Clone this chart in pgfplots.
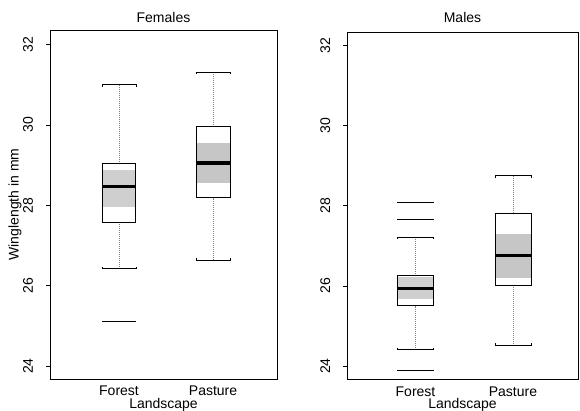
\documentclass[border=0pt]{standalone}
\usepackage{fontspec}
\setmainfont{Liberation Sans}
\usepackage{pgfplots}
\pgfplotsset{compat=1.18}
\usepgfplotslibrary{statistics}

\newcommand{\fnt}{\fontsize{14bp}{16bp}\selectfont}

\pgfplotsset{
  rbox/.style={
    scale only axis,
    axis line style={line width=0.8bp},
    ymin=23.68, ymax=32.36,
    ytick={24,26,28,30,32},
    xtick={1,2}, xticklabels={Forest,Pasture},
    tick pos=left,
    x tick style={draw=none},
    y tick style={black, line width=0.7bp},
    tick align=outside, major tick length=4bp,
    /pgf/number format/assume math mode=true,
    tick label style={font=\fnt},
    yticklabel style={xshift=-13bp, rotate=90, anchor=base, inner sep=0pt},
    xticklabel style={anchor=base, inner sep=0pt, yshift=-13bp},
    label style={font=\fnt},
    title style={font=\fnt, anchor=center},
    xlabel style={at={(axis description cs:0.5,-0.075)}, anchor=center},
    xlabel={Landscape},
    boxplot/draw direction=y,
    boxplot/box extend=0.36,
    boxplot/whisker extend=0.36,
    boxplot/every box/.style={draw=black, line width=0.9bp, fill=none},
    boxplot/every median/.style={draw=black, line width=3.2bp},
    boxplot/draw/lower whisker/.code={%
      \pgfmathsetmacro\hk{\pgfplotsboxplotvalue{lower whisker}+0.05}%
      \draw[gray, line width=0.7bp, dash pattern=on 0.8bp off 1.2bp]
        (boxplot box cs:\pgfplotsboxplotvalue{lower whisker},0.5) --
        (boxplot box cs:\pgfplotsboxplotvalue{lower quartile},0.5);
      \draw[black, line width=0.8bp]
        (boxplot whisker cs:\hk,0) --
        (boxplot whisker cs:\pgfplotsboxplotvalue{lower whisker},0) --
        (boxplot whisker cs:\pgfplotsboxplotvalue{lower whisker},1) --
        (boxplot whisker cs:\hk,1);
    },
    boxplot/draw/upper whisker/.code={%
      \pgfmathsetmacro\hk{\pgfplotsboxplotvalue{upper whisker}-0.05}%
      \draw[gray, line width=0.7bp, dash pattern=on 0.8bp off 1.2bp]
        (boxplot box cs:\pgfplotsboxplotvalue{upper whisker},0.5) --
        (boxplot box cs:\pgfplotsboxplotvalue{upper quartile},0.5);
      \draw[black, line width=0.8bp]
        (boxplot whisker cs:\hk,0) --
        (boxplot whisker cs:\pgfplotsboxplotvalue{upper whisker},0) --
        (boxplot whisker cs:\pgfplotsboxplotvalue{upper whisker},1) --
        (boxplot whisker cs:\hk,1);
    },
  },
  notch/.style={fill=gray!38, draw=none, forget plot},
  outl/.style={black, line width=0.8bp, forget plot, mark=none},
}

\begin{document}
\begin{tikzpicture}
\path[use as bounding box] (0,0) rectangle (580bp,411bp);

% ---------------- Females ----------------
\begin{axis}[rbox,
  at={(50bp,32bp)}, anchor=south west,
  width=227bp, height=349bp,
  xmin=0.266, xmax=2.68,
  title={Females},
  title style={at={(axis description cs:0.5,1.019)}},
  ylabel={Winglength in mm},
  ylabel style={at={(axis description cs:-0.154,0.5)}, anchor=center},
]
% notch bands
\addplot[notch] coordinates {(0.82,27.96) (1.18,27.96) (1.18,28.87) (0.82,28.87)};
\addplot[notch, fill=gray!45] coordinates {(1.82,28.56) (2.18,28.56) (2.18,29.54) (1.82,29.54)};
% boxes
\addplot[boxplot prepared={draw position=1,
  lower whisker=26.42, lower quartile=27.58, median=28.46,
  upper quartile=29.05, upper whisker=31.0}, black] coordinates {};
\addplot[boxplot prepared={draw position=2,
  lower whisker=26.64, lower quartile=28.19, median=29.05,
  upper quartile=29.95, upper whisker=31.31}, black] coordinates {};
% outliers
\addplot[outl] coordinates {(0.82,25.12) (1.18,25.12)};
\end{axis}

% ---------------- Males ----------------
\begin{axis}[rbox,
  at={(347bp,32bp)}, anchor=south west,
  width=231bp, height=347bp,
  xmin=0.297, xmax=2.667,
  ymax=32.33,
  title={Males},
  title style={at={(axis description cs:0.5,1.024)}},
  boxplot/box extend=0.37,
  boxplot/whisker extend=0.37,
]
\addplot[notch] coordinates {(0.815,25.68) (1.185,25.68) (1.185,26.22) (0.815,26.22)};
\addplot[notch, fill=gray!45] coordinates {(1.815,26.2) (2.185,26.2) (2.185,27.3) (1.815,27.3)};
\addplot[boxplot prepared={draw position=1,
  lower whisker=24.41, lower quartile=25.51, median=25.93,
  upper quartile=26.26, upper whisker=27.21}, black] coordinates {};
\addplot[boxplot prepared={draw position=2,
  lower whisker=24.52, lower quartile=26.01, median=26.76,
  upper quartile=27.81, upper whisker=28.75}, black] coordinates {};
\addplot[outl] coordinates {(0.815,28.08) (1.185,28.08)};
\addplot[outl] coordinates {(0.815,27.67) (1.185,27.67)};
\addplot[outl] coordinates {(0.815,23.90) (1.185,23.90)};
\end{axis}
\end{tikzpicture}
\end{document}
